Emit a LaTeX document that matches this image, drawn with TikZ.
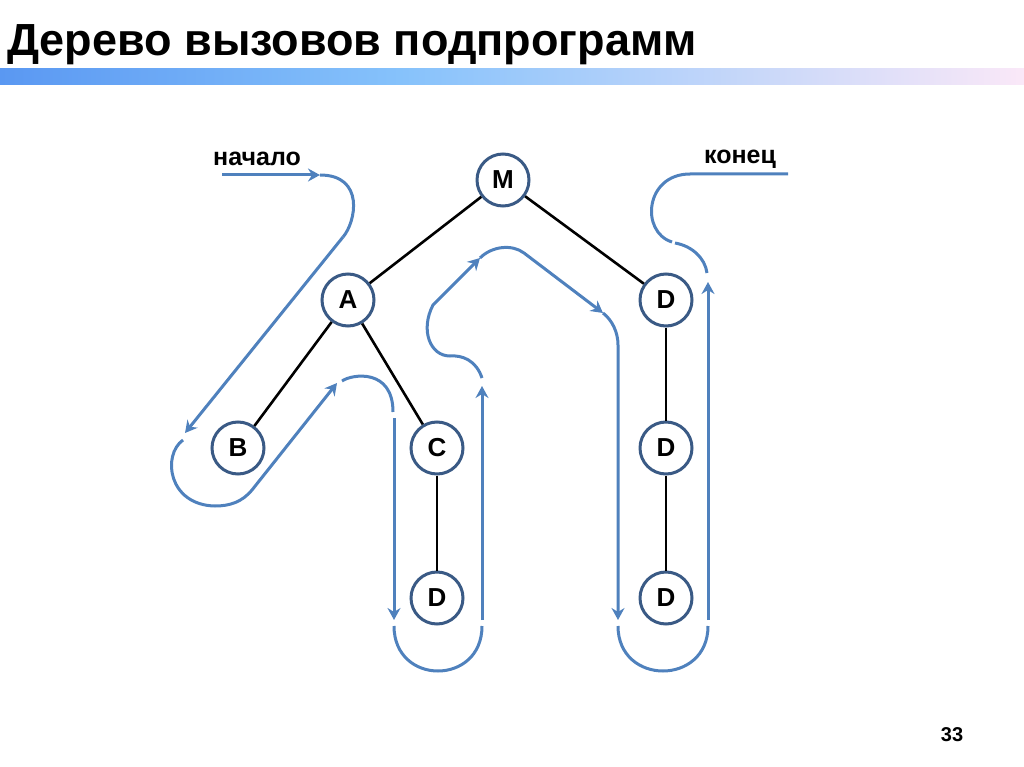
\documentclass[tikz,border=0pt]{standalone}
\usepackage{fontspec}
\setmainfont{Liberation Sans}
\usetikzlibrary{arrows.meta}
\definecolor{flowblue}{HTML}{4F81BD}
\definecolor{ringblue}{HTML}{3A5A85}
\begin{document}
\begin{tikzpicture}[x=1pt,y=-1pt,>={Stealth[length=12pt,width=13pt,inset=4pt]},
  vert/.style={circle,draw=ringblue,line width=3pt,fill=white,minimum size=52pt,inner sep=0pt,font=\fontsize{26}{28}\selectfont\bfseries},
  tree/.style={line width=2.6pt,black},
  flow/.style={line width=3pt,flowblue},
  lbl/.style={font=\fontsize{25}{28}\selectfont\bfseries}]
\useasboundingbox (0,0) rectangle (1024,767);
% title and bar
\node[anchor=base west,inner sep=0pt,font=\fontsize{45}{54}\selectfont\bfseries] (title) at (7,56) {Дерево вызовов подпрограмм};
\shade[left color={rgb,255:red,90;green,152;blue,242},right color={rgb,255:red,134;green,194;blue,251}] (0,69) rectangle (400,85);
\shade[left color={rgb,255:red,134;green,194;blue,251},right color={rgb,255:red,250;green,232;blue,248}] (400,69) rectangle (1024,85);
% call tree
\foreach \n/\x/\y/\t in {m/503/180/M,a/348/300/A,d1/666/300/D,b/238/448/B,c/437/448/C,d0/437/598/D,d2/666/448/D,d3/666/598/D}
  {\node[vert] (\n) at (\x,\y) {\t};}
\foreach \p/\q in {m/a,m/d1,a/b,a/c,c/d0,d1/d2,d2/d3} {\draw[tree] (\p) -- (\q);}
% walk round the tree
\node[lbl] (start) at (257,159) {начало};
\node[lbl] (stop) at (740,159) {конец};
\draw[flow,->] (222,175) -- (320,175);
\draw[flow] (320,175) .. controls (365,175) and (356,222) .. (343,237);
\draw[flow,->] (343,237) -- (185,433);
\draw[flow,->] (183,440) .. controls (162,455) and (168,505) .. (215,506) .. controls (230,506) and (242,502) .. (252,490) -- (337,383);
\draw[flow] (342,381) .. controls (352,374) and (393,368) .. (393,412);
\draw[flow,->] (394,418) -- (394,620);
\draw[flow] (394,626) .. controls (394,686) and (482,686) .. (482,626);
\draw[flow,->] (482,620) -- (482,386);
\draw[flow,->] (482,378) .. controls (476,360) and (462,355) .. (450,356) .. controls (430,356) and (420,330) .. (433,305) -- (480,258);
\draw[flow,->] (480,258) .. controls (492,246) and (512,244) .. (524,253) -- (603,313);
\draw[flow,->] (603,313) .. controls (612,320) and (618,332) .. (618,345) -- (618,620);
\draw[flow] (618,626) .. controls (618,686) and (708,686) .. (708,626);
\draw[flow,->] (708,620) -- (708,282);
\draw[flow] (707,273) .. controls (705,258) and (692,246) .. (675,243);
\draw[flow] (672,242) .. controls (640,232) and (645,174) .. (690,174) -- (788,174);
% slide number
\node[font=\fontsize{20}{24}\selectfont\bfseries] (num) at (952,735) {33};
\end{tikzpicture}
\end{document}
